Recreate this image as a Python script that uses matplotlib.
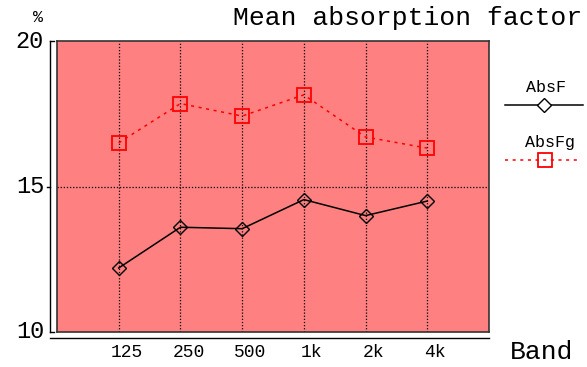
import matplotlib.pyplot as plt
from matplotlib.lines import Line2D

bands = ["125", "250", "500", "1k", "2k", "4k"]
abs_f = [12.2, 13.6, 13.55, 14.55, 14.0, 14.5]
abs_fg = [16.5, 17.85, 17.42, 18.15, 16.7, 16.32]

mono = "Liberation Mono"
fig = plt.figure(figsize=(5.87, 3.67), dpi=100)
W, H = 587, 367
# plot area in pixels: x 57..489, y 41..332
ax = fig.add_axes([57 / W, 1 - 332 / H, 432 / W, 291 / H])
ax.set_facecolor("#ff8080")
for s in ax.spines.values():
    s.set_color("#333333")
    s.set_linewidth(1.2)

x = list(range(1, len(bands) + 1))
ax.set_xlim(0, 7)
ax.set_ylim(10, 20)

for xi in x:
    ax.axvline(xi, color="black", ls=(0, (1, 1.5)), lw=0.9, zorder=1)
ax.axhline(15, color="black", ls=(0, (1, 1.5)), lw=0.9, zorder=1)

ax.plot(x, abs_f, color="black", lw=1.1, marker="D", ms=7, mfc="none",
        mec="black", mew=1.0, zorder=3)
ax.plot(x, abs_fg, color="red", lw=1.1, ls=(0, (2, 3)), marker="s", ms=10,
        mfc="none", mec="red", mew=1.3, zorder=3)

ax.set_xticks([])
ax.set_yticks([])

# y axis bracket to the left of the frame
yt = ax.get_yaxis_transform()
ax.add_line(Line2D([-0.016, -0.016], [10, 20], transform=yt, color="black",
                   lw=1.0, clip_on=False))
for yv in (10, 20):
    ax.add_line(Line2D([-0.016, -0.006], [yv, yv], transform=yt,
                       color="black", lw=1.0, clip_on=False))
ax.add_line(Line2D([-0.022, -0.016], [15, 15], transform=yt, color="black",
                   lw=1.0, clip_on=False))
for yv in (10, 15, 20):
    ax.text(-0.03, yv, str(yv), transform=yt, ha="right", va="center",
            family=mono, fontsize=17)

# x axis line below the frame
ax.add_line(Line2D([-0.016, 1.0], [-0.021, -0.021], transform=ax.transAxes,
                   color="black", lw=1.0, clip_on=False))
xt = ax.get_xaxis_transform()
for xi, lab in zip(x, bands):
    ax.text(xi + 0.13, -0.072, lab, transform=xt, ha="center", va="center",
            family=mono, fontsize=13)

fig.text(542 / W, 1 - 352 / H, "Band", ha="center", va="center",
         family=mono, fontsize=19)
fig.text(38 / W, 1 - 17 / H, "%", ha="center", va="center", family=mono,
         fontsize=12)
fig.text(582 / W, 1 - 18 / H, "Mean absorption factor", ha="right",
         va="center", family=mono, fontsize=19)

# legend
fig.text(546 / W, 1 - 87 / H, "AbsF", ha="center", va="center",
         family=mono, fontsize=12)
fig.add_artist(Line2D([505 / W, 583 / W], [1 - 105 / H, 1 - 105 / H],
                      color="black", lw=1.1))
fig.add_artist(Line2D([544 / W], [1 - 105 / H], marker="D", ms=7,
                      mfc="white", mec="black", mew=1.0))
fig.text(550 / W, 1 - 143 / H, "AbsFg", ha="center", va="center",
         family=mono, fontsize=12)
fig.add_artist(Line2D([505 / W, 578 / W], [1 - 160 / H, 1 - 160 / H],
                      color="red", lw=1.1, ls=(0, (2, 3))))
fig.add_artist(Line2D([545 / W], [1 - 160 / H], marker="s", ms=10,
                      mfc="none", mec="red", mew=1.3))

fig.savefig("out.png", dpi=100)
